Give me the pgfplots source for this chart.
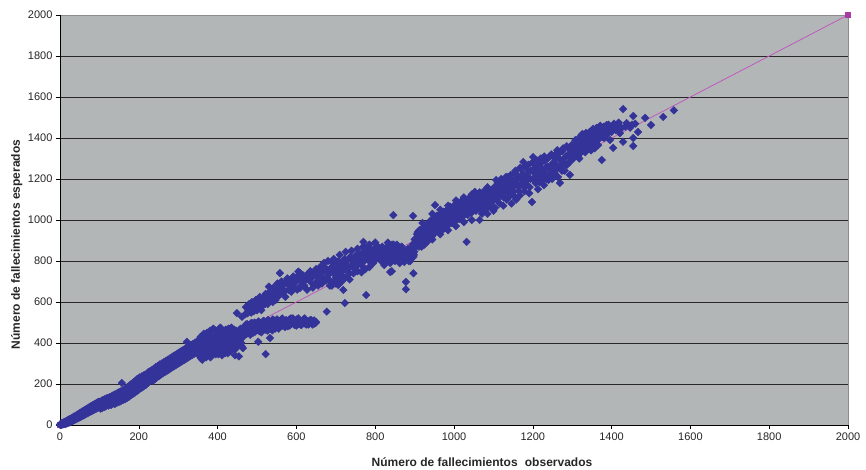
\documentclass[border=0pt]{standalone}
\usepackage{pgfplots}
\pgfplotsset{compat=1.18}
\usepackage{fontspec}
\setmainfont{Liberation Sans}
\definecolor{plotbg}{RGB}{179,182,183}
\definecolor{ptblue}{RGB}{51,51,153}
\definecolor{linec}{RGB}{190,90,190}
\definecolor{markc}{RGB}{168,60,162}
\definecolor{gridc}{RGB}{40,40,40}
\definecolor{borderc}{RGB}{140,140,140}
\begin{document}
\begin{tikzpicture}
\begin{axis}[
  scale only axis, width=788pt, height=410pt,
  xmin=0, xmax=2000, ymin=0, ymax=2000,
  xtick={0,200,...,2000}, ytick={0,200,...,2000},
  tick align=outside, xtick pos=bottom, ytick pos=left,
  major tick length=4pt,
  tick style={black, line width=0.6pt},
  axis line style={draw=none},
  axis background/.style={fill=plotbg},
  ymajorgrids, grid style={gridc, line width=0.9pt},
  /pgf/number format/assume math mode=true,
  /pgf/number format/1000 sep={},
  tick label style={font=\fontsize{11}{13}\selectfont, text=black!85},
  clip=false,
  every axis x label/.style={at={(axis description cs:0.5355,-0.1)}, anchor=base},
  every axis y label/.style={at={(axis description cs:-0.0508,0.44)}, rotate=90, anchor=base},
  label style={font=\fontsize{12}{14}\selectfont\bfseries, text=black!85},
  xlabel={Número de fallecimientos\hspace{0.6em}observados},
  ylabel={Número de fallecimientos esperados},
]
\draw[borderc, line width=0.9pt] (axis cs:0,2000) -- (axis cs:2000,2000) -- (axis cs:2000,0);
\addplot[linec, line width=0.8pt, mark=square*, mark size=2.5pt, mark options={draw=markc, fill=markc}] coordinates {(0,0) (2000,2000)};
\addplot[only marks, mark=square*, mark size=2.7pt, mark options={draw=ptblue, fill=ptblue, rotate=45}] coordinates {
(0,2)(1,0)(2,5)(3,1)(4,8)(5,2)(6,4)(7,10)(8,3)(9,12)(10,6)(11,14)(12,8)(13,4)(14,17)(15,11)(16,7)(17,20)(18,13)(19,9)(20,24)(21,16)(22,11)(23,27)(24,19)(25,13)(26,30)(27,22)(28,17)(29,33)(30,25)(31,19)(32,36)(33,28)(34,22)(35,40)(36,31)(37,25)(38,43)(39,34)(40,28)(41,46)(42,37)(43,31)(44,50)(45,40)(46,34)(47,54)(48,43)(49,37)(50,58)(51,46)(52,40)(53,61)(54,50)(55,42)(56,65)(57,53)(58,46)(59,69)(60,56)(61,48)(62,72)(63,60)(64,52)(65,75)(66,63)(67,55)(68,79)(69,66)(70,58)(71,82)(72,69)(73,61)(74,86)(75,72)(76,64)(77,90)(78,75)(79,67)(80,93)(81,78)(82,70)(83,96)(84,82)(85,73)(86,99)(87,85)(88,76)(89,103)(90,88)(91,79)(92,106)(93,91)(94,82)(95,110)(96,94)(97,85)(98,113)(99,97)
(100,88)(101,112)(102,96)(103,80)(104,105)(105,118)(106,92)(107,100)(108,84)(109,122)(110,108)(111,95)(112,115)(113,88)(114,126)(115,102)(116,110)(117,92)(118,130)(119,115)(120,98)(121,106)(122,132)(123,95)(124,118)(125,108)(126,136)(127,100)(128,122)(129,112)(130,98)(131,140)(132,116)(133,126)(134,104)(135,145)(136,120)(137,110)(138,132)(139,102)(140,150)(141,125)(142,115)(143,138)(144,108)(145,155)(146,130)(147,120)(148,142)(149,112)(150,160)(151,135)(152,124)(153,148)(154,116)(155,165)(156,140)(157,205)(158,128)(159,152)(160,122)(161,170)(162,145)(163,134)(164,158)(165,126)(166,178)(167,150)(168,138)(169,165)(170,132)(171,185)(172,156)(173,144)(174,172)(175,138)(176,192)(177,162)(178,150)(179,180)(180,145)(181,200)(182,168)(183,156)(184,188)(185,152)(186,208)(187,175)(188,162)(189,196)(190,158)(191,215)(192,182)(193,168)(194,205)(195,165)(196,224)(197,190)(198,176)(199,214)(200,172)(202,232)(203,198)(204,185)(205,222)(206,180)(208,238)(209,205)(210,192)(211,228)(212,188)(214,244)(215,212)(216,200)(217,235)(218,196)
(220,250)(221,218)(222,236)(223,205)(224,258)(225,228)(226,244)(227,212)(228,262)(229,236)(230,222)(231,252)(233,268)(234,230)(235,246)(236,216)(238,275)(239,240)(240,256)(241,224)(243,282)(244,248)(245,262)(246,232)(248,288)(249,255)(250,270)(251,238)(253,295)(254,262)(255,278)(256,245)(258,300)(259,268)(260,285)(261,252)(263,306)(264,275)(265,292)(266,258)(268,312)(269,282)(270,298)(271,264)(273,318)(274,290)(275,304)(276,270)(278,324)(279,296)(280,310)(281,276)(283,330)(284,302)(285,316)(286,282)(288,336)(289,308)(290,322)(291,288)(293,342)(294,314)(295,328)(296,294)(298,348)(299,320)(300,334)(301,300)(303,354)(304,326)(305,340)(306,306)(308,360)(309,332)(310,346)(311,312)(313,366)(314,338)(315,352)(316,318)(318,372)(319,344)(320,358)(321,324)(322,406)(323,378)(324,350)(325,364)(326,330)(328,384)(329,356)(330,370)(331,336)(333,390)(334,362)(335,376)(336,342)(338,396)(339,368)(340,382)(341,348)(343,402)(344,374)(345,388)(346,354)(348,408)(349,380)
(350,380)(351,410)(352,340)(353,372)(354,360)(355,338)(356,400)(357,430)(358,325)(359,395)(360,370)(361,318)(362,350)(363,380)(364,410)(365,445)(366,335)(367,362)(368,385)(369,405)(370,360)(371,330)(372,420)(373,450)(374,345)(375,385)(376,395)(377,415)(378,440)(379,352)(380,370)(381,460)(382,330)(383,398)(384,455)(385,340)(386,405)(387,430)(388,385)(389,470)(390,350)(391,372)(392,465)(393,412)(394,425)(395,345)(396,400)(397,455)(398,375)(399,390)(400,440)(401,420)(402,345)(403,365)(404,470)(405,445)(406,415)(407,475)(408,390)(409,405)(410,450)(411,340)(412,365)(413,455)(414,430)(415,380)(416,400)(417,420)(418,460)(419,350)(420,380)(421,465)(422,440)(423,395)(424,410)(425,430)(426,350)(427,375)(428,470)(429,450)(430,425)(431,410)(432,395)(433,360)(434,455)(435,475)(436,370)(437,420)(438,440)(439,390)(440,410)(441,450)(442,465)(443,405)(444,340)(445,370)(446,430)(447,460)(448,390)(449,546)(451,425)(452,455)(453,395)(454,335)(455,460)(456,420)(457,410)(458,470)(459,440)(460,400)(461,385)(462,528)(462,445)(463,470)(464,375)(465,430)
(466,450)(467,465)(468,475)(470,460)(471,448)(472,490)(474,445)(475,492)(476,470)(478,485)(479,462)(480,455)(482,478)(483,440)(484,495)(486,462)(487,498)(488,480)(490,450)(491,485)(492,470)(494,500)(495,455)(496,485)(498,465)(499,478)(500,490)(502,475)(503,406)(503,462)(504,505)(506,458)(507,500)(508,482)(510,495)(511,452)(512,470)(514,488)(515,480)(516,508)(518,476)(519,505)(520,493)(522,346)(522,465)(523,478)(524,500)(526,485)(527,460)(528,512)(530,478)(531,505)(532,495)(533,424)(534,470)(535,485)(536,505)(538,488)(539,462)(540,515)(542,480)(543,510)(544,498)(546,470)(547,490)(548,510)(550,490)(551,515)(553,478)(555,470)(556,505)(559,492)(560,498)(562,515)(564,520)(565,485)(568,500)(569,490)(571,478)(573,505)(574,512)(577,495)(578,482)(580,505)(582,515)(583,485)(586,520)(587,495)(589,498)(591,520)(592,510)(595,488)(596,500)(598,502)(600,485)(601,515)(604,495)(605,520)(607,508)(609,505)(610,490)(613,488)(614,502)(617,505)(618,515)(621,520)(622,495)(625,490)(626,505)(629,505)(630,490)(633,495)(634,510)(637,512)(638,500)(641,490)(642,505)(645,510)(646,495)(649,498)(650,502)
(470,540)(472,575)(476,545)(478,560)(480,590)(483,565)(485,548)(487,600)(490,575)(492,555)(495,585)(497,610)(500,560)(502,585)(505,600)(507,625)(510,575)(511,560)(512,577)(515,620)(517,600)(520,590)(522,640)(525,610)(527,590)(530,675)(532,650)(533,610)(536,630)(538,620)(540,600)(542,670)(545,650)(547,610)(550,620)(552,690)(555,665)(557,635)(558,741)(560,640)(562,700)(565,680)(567,660)(570,650)(572,625)(575,700)(577,715)(580,660)(582,680)(585,690)(587,650)(590,710)(592,725)(595,670)(597,695)(600,720)(602,660)(605,748)(607,710)(609,668)(610,740)(612,680)(615,700)(617,730)(620,680)(622,705)(625,730)(627,660)(630,710)(632,740)(635,750)(637,715)(640,690)(642,670)(645,730)(647,745)(650,760)(652,700)
(655,720)(655,680)(657,750)(660,690)(660,770)(662,730)(665,745)(665,690)(667,700)(670,710)(670,790)(672,770)(675,760)(675,705)(677,553)(678,745)(680,730)(680,800)(682,710)(685,700)(685,680)(688,760)(690,770)(690,680)(692,790)(695,740)(695,700)(695,810)(697,760)(700,720)(700,690)(702,745)(705,785)(705,720)(706,683)(707,800)(710,755)(710,700)(710,830)(712,770)(715,730)(715,700)(717,750)(719,659)(720,790)(722,810)(723,595)(725,760)(725,720)(725,845)(727,780)(730,805)(732,760)(735,740)(735,710)(737,820)(740,780)(740,850)(742,800)(745,815)(745,740)(747,775)(750,760)(752,830)(755,800)(755,750)(755,860)(757,785)(760,830)(762,810)(765,780)(765,745)(767,840)(770,893)(770,870)(772,800)(775,815)(775,760)(777,634)(777,830)(780,850)(782,815)(785,800)(785,770)(785,880)(787,860)(790,840)(792,830)(795,820)(795,790)(797,845)(800,865)(800,890)(802,810)(805,830)(807,870)(810,850)(812,835)
(815,800)(816,840)(818,870)(819,815)(820,830)(822,860)(823,780)(825,800)(826,850)(828,835)(829,810)(831,870)(832,890)(834,805)(835,835)(837,850)(838,790)(838,746)(840,820)(841,860)(842,750)(843,880)(844,815)(846,1024)(846,840)(847,880)(849,860)(850,800)(852,815)(853,845)(855,880)(856,820)(858,830)(859,870)(861,850)(862,790)(864,805)(865,835)(867,870)(868,810)(870,825)(871,855)(873,840)(874,795)(876,810)(877,830)(878,698)(878,662)(879,845)(880,810)(882,825)(883,860)(885,800)(886,820)(888,835)(889,800)(891,815)(892,845)(894,860)(895,880)(896,1020)(897,740)(897,820)(898,830)(899,845)(900,905)
(903,870)(904,900)(906,930)(908,940)(909,890)(911,870)(912,950)(914,925)(915,905)(917,955)(918,870)(920,900)(921,940)(923,880)(924,915)(926,940)(927,960)(929,975)(930,925)(932,910)(933,895)(935,950)(936,975)(938,990)(939,940)(941,960)(942,1000)(944,920)(945,960)(947,985)(948,930)(950,1010)(952,1073)(953,955)(955,985)(956,1020)(958,950)(959,990)(961,1010)(962,940)(964,975)(965,1030)(967,945)(968,995)(970,1020)(971,960)(973,990)(974,1040)(976,960)(977,1005)(979,1030)(980,975)(982,1000)(983,1050)(985,975)(986,1015)(988,1040)(989,990)(990,1064)(992,1010)(993,1060)(995,985)(996,1030)(998,1050)(999,1000)(1001,1020)(1002,1075)(1004,995)(1006,1040)(1007,1060)(1009,1010)(1010,1030)(1012,1085)(1013,1005)(1015,1050)(1016,1070)(1018,1025)(1019,1040)(1021,1095)(1022,1015)(1024,1060)(1025,1080)(1027,1030)(1028,1050)(1030,1100)(1032,893)(1033,1070)(1035,1025)(1036,1045)(1038,1090)(1040,1110)(1041,1060)(1043,1080)(1044,1035)(1046,1050)(1047,1100)(1049,1120)(1050,1070)(1052,1090)(1053,1137)(1055,1060)(1056,1045)(1058,1125)(1059,1080)(1061,1095)(1062,1110)(1064,1070)(1065,1055)(1067,1130)(1068,1090)(1070,1100)(1071,1030)(1073,1060)(1074,1120)(1076,1140)(1077,1075)(1079,1105)(1080,1050)(1082,1075)(1083,1100)(1085,1150)(1086,1130)(1088,1110)(1089,1070)(1091,1085)(1092,1110)(1094,1140)(1095,1060)(1097,1115)(1098,1090)
(925,880)(945,905)(965,930)(985,950)(1005,970)(1025,990)(1045,1000)(1065,1000)(1085,1030)(1100,1045)(920,985)(945,1030)(965,1050)(985,1070)(1005,1095)(1025,1110)(1045,1125)(1065,1135)(1085,1160)
(1101,1130)(1102,1160)(1104,1060)(1105,1110)(1107,1195)(1108,1140)(1110,1100)(1111,1180)(1113,1150)(1114,1120)(1116,1080)(1117,1150)(1119,1170)(1120,1200)(1122,1120)(1123,1145)(1125,1070)(1126,1110)(1128,1190)(1129,1165)(1131,1140)(1132,1210)(1134,1100)(1135,1150)(1137,1210)(1138,1180)(1140,1160)(1141,1130)(1143,1120)(1144,1220)(1146,1080)(1147,1160)(1149,1180)(1150,1195)(1152,1140)(1153,1115)(1155,1230)(1156,1240)(1158,1100)(1159,1175)(1161,1200)(1162,1210)(1164,1160)(1165,1140)(1167,1120)(1168,1255)(1170,1250)(1171,1200)(1173,1180)(1174,1225)(1176,1283)(1177,1165)(1179,1140)(1180,1260)(1182,1210)(1183,1190)(1185,1170)(1186,1215)(1188,1240)(1189,1270)(1191,1130)(1192,1160)(1194,1200)(1195,1240)(1198,1088)(1199,1280)(1201,1307)(1202,1200)(1204,1230)(1205,1255)(1207,1180)(1208,1215)(1210,1260)(1211,1290)(1213,1150)(1214,1240)(1216,1215)(1217,1185)(1219,1275)(1220,1300)(1222,1190)(1223,1250)(1225,1240)(1226,1215)(1228,1170)(1229,1310)(1231,1290)(1232,1255)(1234,1220)(1235,1200)(1237,1260)(1238,1300)(1240,1195)(1241,1260)(1243,1310)(1244,1225)(1246,1240)(1247,1320)(1249,1200)(1250,1265)(1252,1280)(1253,1215)(1255,1230)(1256,1300)(1258,1320)(1259,1270)(1261,1250)(1262,1340)(1264,1210)(1265,1260)(1267,1300)(1268,1330)(1269,1181)(1271,1290)(1272,1260)(1274,1240)(1275,1335)(1277,1350)(1278,1280)(1280,1300)(1281,1240)(1283,1270)(1284,1310)(1286,1360)(1287,1270)(1289,1315)(1290,1350)(1292,1280)(1294,1220)(1295,1345)(1297,1290)(1298,1305)(1299,1366)(1300,1330)
(1302,1350)(1303,1300)(1305,1320)(1306,1360)(1308,1390)(1309,1320)(1311,1345)(1312,1380)(1314,1310)(1315,1340)(1317,1400)(1318,1300)(1320,1360)(1321,1390)(1323,1330)(1324,1415)(1326,1420)(1327,1350)(1329,1375)(1330,1400)(1332,1345)(1333,1330)(1335,1425)(1336,1375)(1338,1390)(1339,1410)(1341,1350)(1342,1360)(1344,1430)(1345,1395)(1347,1400)(1348,1340)(1350,1370)(1351,1420)(1353,1445)(1354,1380)(1356,1410)(1357,1350)(1359,1380)(1360,1430)(1362,1450)(1363,1400)(1365,1420)(1366,1365)(1368,1395)(1369,1440)(1371,1460)(1372,1415)(1374,1430)(1375,1293)(1377,1405)(1378,1435)(1380,1455)(1381,1400)(1383,1425)(1384,1450)(1386,1440)(1387,1463)(1390,1420)(1392,1465)(1393,1440)(1396,1390)(1398,1450)(1400,1430)(1404,1352)(1404,1454)(1406,1470)(1410,1440)(1412,1455)(1415,1460)(1418,1475)(1421,1424)(1423,1445)(1425,1450)(1429,1382)(1429,1541)(1435,1455)(1438,1473)(1442,1460)(1447,1450)(1452,1465)(1455,1400)(1455,1361)(1455,1507)(1460,1470)(1467,1429)(1485,1498)(1500,1463)(1531,1503)(1558,1535)
};
\draw[black, line width=0.8pt] (axis cs:0,2000) -- (axis cs:0,0) -- (axis cs:2000,0);
\end{axis}
\pgfresetboundingbox
\path[use as bounding box] (-60pt,-44pt) rectangle (806pt,425pt);
\end{tikzpicture}
\end{document}
